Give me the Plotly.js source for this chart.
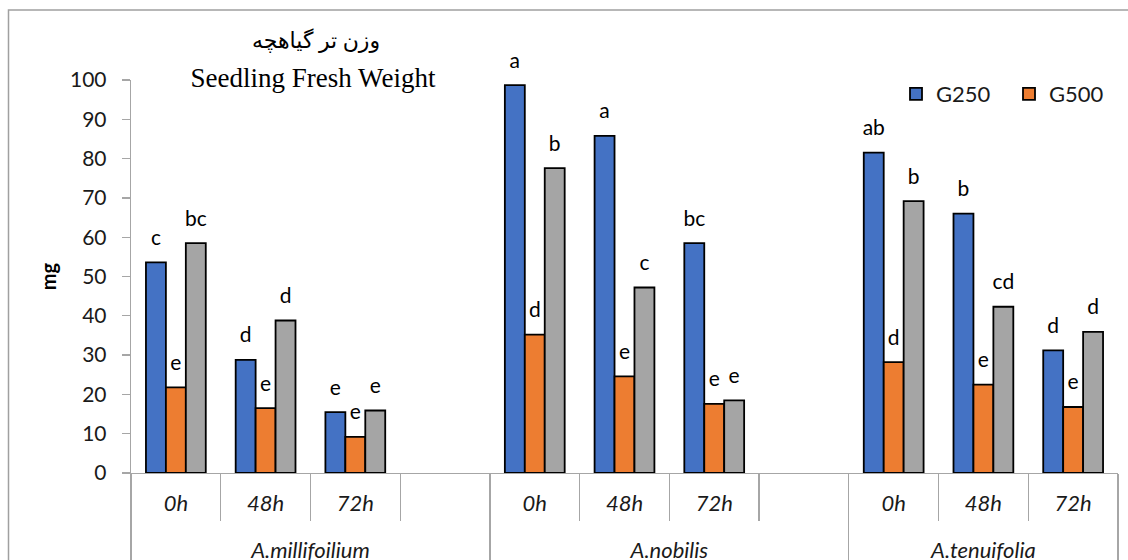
<!DOCTYPE html>
<html>
<head>
<meta charset="utf-8">
<script src="https://cdn.plot.ly/plotly-3.0.1.min.js"></script>
<style>
html,body{margin:0;padding:0;background:#fff;overflow:hidden}
#chart{width:1128px;height:560px}
</style>
</head>
<body>
<div id="chart"></div>
<script>
// ---- data ----
const groupLabels = ['A.millifoilium','A.millifoilium','A.millifoilium','A.millifoilium',
                     'A.nobilis','A.nobilis','A.nobilis','A.nobilis',
                     'A.tenuifolia','A.tenuifolia','A.tenuifolia'];
const timeLabels  = ['0h','48h','72h',' ', '0h','48h','72h',' ', '0h','48h','72h'];

const g250 = [53.6, 28.8, 15.5, null, 98.7, 85.8, 58.5, null, 81.5, 66.0, 31.2];
const g500 = [21.8, 16.5,  9.2, null, 35.2, 24.6, 17.6, null, 28.2, 22.5, 16.8];
const g3   = [58.5, 38.8, 15.9, null, 77.6, 47.2, 18.5, null, 69.2, 42.3, 35.9];

const letters250 = ['c','d','e',null,'a','a','bc',null,'ab','b','d'];
const letters500 = ['e','e','e',null,'d','e','e',null,'d','e','e'];
const letters3   = ['bc','d','e',null,'b','c','e',null,'b','cd','d'];

const seriesNames = ['G250','G500',''];
const colors = ['#4472C4','#ED7D31','#A5A5A5'];

// ---- traces ----
// group labels get an empty first line so that they sit lower, below the time labels
const xCats = [groupLabels.map(g => '<br>' + g), timeLabels];
const values = [g250, g500, g3];
const letterSets = [letters250, letters500, letters3];

const traces = [];
values.forEach((v, i) => {
  traces.push({
    type: 'bar', x: xCats, y: v, name: seriesNames[i],
    showlegend: i < 2,
    marker: {color: colors[i], line: {color: '#000', width: 1.8}},
    hoverinfo: 'y'
  });
});
values.forEach((v, i) => {
  traces.push({
    type: 'scatter', mode: 'markers+text', x: xCats, y: v,
    text: letterSets[i], textposition: 'top center',
    textfont: {family: 'Lato, sans-serif', size: 21, color: '#000'},
    marker: {size: 18, opacity: 0},
    showlegend: false, cliponaxis: false, hoverinfo: 'skip'
  });
});

const grey = '#A6A6A6';
const layout = {
  width: 1128, height: 560,
  margin: {l: 131, r: 10, t: 80, b: 86.5, autoexpand: false},
  paper_bgcolor: '#fff', plot_bgcolor: '#fff',
  barmode: 'group', bargap: 1/3, bargroupgap: 0,
  scattermode: 'group', scattergap: 1/3,
  font: {family: 'Lato, sans-serif', color: '#1a1a1a'},
  title: {
    text: 'Seedling Fresh Weight',
    font: {family: 'Liberation Serif, serif', size: 27, color: '#000'},
    xref: 'container', yref: 'container',
    x: 313/1128, xanchor: 'center', y: 1 - 78/560, yanchor: 'middle'
  },
  xaxis: {
    type: 'multicategory', range: [-0.5, 10.5],
    showline: true, linecolor: grey, linewidth: 1.3,
    ticks: 'outside', ticklen: 47, tickcolor: grey, tickwidth: 1.3,
    showdividers: true, dividercolor: grey, dividerwidth: 1.3,
    ticklabelstandoff: 10,
    tickfont: {family: 'Lato, sans-serif', size: 22, style: 'italic', color: '#1a1a1a'},
    showgrid: false, zeroline: false, fixedrange: true, automargin: false
  },
  yaxis: {
    range: [0, 100], dtick: 10,
    showline: true, linecolor: grey, linewidth: 1.3,
    ticks: 'outside', ticklen: 8, tickcolor: grey, tickwidth: 1.3,
    ticklabelstandoff: 11,
    tickfont: {family: 'Lato, sans-serif', size: 21, color: '#1a1a1a'},
    showgrid: false, zeroline: false, automargin: false,
    title: {text: '<b>mg</b>', font: {family: 'Lato, sans-serif', size: 20, color: '#000'}, standoff: 8}
  },
  legend: {
    orientation: 'h', x: (896-131)/987, xanchor: 'left',
    y: (473.5-94)/393.5, yanchor: 'middle',
    font: {family: 'Lato, sans-serif', size: 22, color: '#1a1a1a'},
    bgcolor: 'rgba(0,0,0,0)', entrywidth: 68, traceorder: 'normal'
  },
  annotations: [{
    text: 'وزن تر گیاهچه', xref: 'paper', yref: 'paper',
    x: (316-131)/987, y: (473.5-40)/393.5, xanchor: 'center', yanchor: 'middle',
    showarrow: false,
    font: {family: 'Liberation Serif, DejaVu Serif, DejaVu Sans, serif', size: 22, color: '#000'}
  }],
  shapes: [{
    type: 'rect', xref: 'paper', yref: 'paper',
    x0: (8.5-131)/987, x1: 1.3, y0: -0.6, y1: (473.5-10)/393.5,
    line: {color: '#A0A0A0', width: 1.5}, fillcolor: 'rgba(0,0,0,0)', layer: 'below'
  }]
};

Plotly.newPlot('chart', traces, layout, {displayModeBar: false, staticPlot: true});
</script>
</body>
</html>
